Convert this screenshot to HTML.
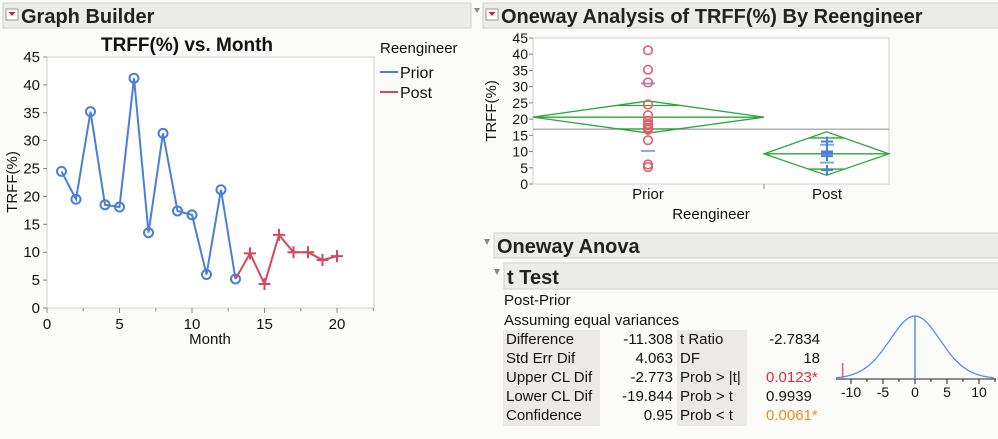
<!DOCTYPE html>
<html><head><meta charset="utf-8">
<style>
body{margin:0;background:#fff;width:998px;height:439px;overflow:hidden;font-family:"Liberation Sans",Arial,sans-serif;}
svg{display:block}
text{font-family:"Liberation Sans",Arial,sans-serif;}
</style></head>
<body>
<svg id="s" width="998" height="439" xmlns="http://www.w3.org/2000/svg">
  <rect x="0" y="0" width="998" height="439" fill="#fbfbfa"/>
  <g>
    <rect x="3" y="3" width="468" height="25" fill="#ececea" stroke="#cfcfcc"/>
    <rect x="6" y="9" width="12" height="11" fill="#fff" stroke="#999"/>
    <path d="M8.5 12 L15.5 12 L12 16 Z" fill="#d0202a"/>
    <text x="21" y="23" font-size="20" font-weight="bold" fill="#222">Graph Builder</text>
  </g>
  <path d="M474 8 L480 8 L477 13 Z" fill="#888"/>
  <g>
    <rect x="483" y="3" width="520" height="25" fill="#ececea" stroke="#cfcfcc"/>
    <rect x="486" y="9" width="12" height="11" fill="#fff" stroke="#999"/>
    <path d="M488.5 12 L495.5 12 L492 16 Z" fill="#d0202a"/>
    <text x="501" y="23" font-size="20" font-weight="bold" fill="#222">Oneway Analysis of TRFF(%) By Reengineer</text>
  </g>
  <g id="gb"></g>
  <g id="ow"></g>
  <path d="M484 239 L490 239 L487 245 Z" fill="#888"/>
  <g>
    <rect x="494" y="233" width="510" height="25" fill="#ececea" stroke="#cfcfcc"/>
    <text x="497" y="253" font-size="20" font-weight="bold" fill="#222">Oneway Anova</text>
  </g>
  <path d="M494 269 L500 269 L497 275 Z" fill="#888"/>
  <g>
    <rect x="504" y="263" width="500" height="26" fill="#ececea" stroke="#cfcfcc"/>
    <text x="507" y="284" font-size="20" font-weight="bold" fill="#222">t Test</text>
  </g>
  <g font-size="15" fill="#111">
    <text x="504" y="305">Post-Prior</text>
    <text x="504" y="325">Assuming equal variances</text>
    <rect x="503" y="330" width="97" height="96" fill="#ebeae6"/>
    <rect x="677" y="330" width="70" height="96" fill="#ebeae6"/>
    <g>
      <text x="506" y="344">Difference</text><text x="673" y="344" text-anchor="end">-11.308</text><text x="680" y="344">t Ratio</text><text x="820" y="344" text-anchor="end">-2.7834</text>
      <text x="506" y="363">Std Err Dif</text><text x="673" y="363" text-anchor="end">4.063</text><text x="680" y="363">DF</text><text x="820" y="363" text-anchor="end">18</text>
      <text x="506" y="382">Upper CL Dif</text><text x="673" y="382" text-anchor="end">-2.773</text><text x="680" y="382">Prob &gt; |t|</text><text x="766" y="382" fill="#e8283c">0.0123*</text>
      <text x="506" y="401">Lower CL Dif</text><text x="673" y="401" text-anchor="end">-19.844</text><text x="680" y="401">Prob &gt; t</text><text x="766" y="401">0.9939</text>
      <text x="506" y="420">Confidence</text><text x="673" y="420" text-anchor="end">0.95</text><text x="680" y="420">Prob &lt; t</text><text x="766" y="420" fill="#f08a24">0.0061*</text>
    </g>
  </g>
  <g id="td"></g>
</svg>
<script>
const months=[1,2,3,4,5,6,7,8,9,10,11,12,13];
const priorVals=[24.5,19.5,35.2,18.5,18.1,41.2,13.5,31.3,17.4,16.7,6.0,21.2,5.2];
const postMonths=[14,15,16,17,18,19,20];
const postVals=[9.8,4.3,13.1,10.0,10.0,8.6,9.3];
const yTicks=[0,5,10,15,20,25,30,35,40,45];
const xTicks=[0,5,10,15,20];
const priorMean=20.6, priorLo=15.7, priorHi=25.6, priorInLo=17.0, priorInHi=24.2, priorSdHi=31.0, priorSdLo=10.2;
const postMean=9.3, postLo=2.7, postHi=16.1, postInLo=4.6, postInHi=14.2, postSdHi=12.1, postSdLo=6.6;
const grandMean=16.9;
const tTicks=[-10,-5,0,5,10];
const tObs=-11.308, tSE=4.063, tDF=18;

const NS='http://www.w3.org/2000/svg';
function mk(parent,tag,attrs,txt){const e=document.createElementNS(NS,tag);for(const k in attrs)e.setAttribute(k,attrs[k]);if(txt!==undefined)e.textContent=txt;parent.appendChild(e);return e;}

(function(){
const g=document.getElementById('gb');
const X=v=>47+v*14.5, Y=v=>308-v*(251/45);
let e=mk(g,'rect',{x:47,y:57,width:327,height:251,fill:'#fff',stroke:'#cfcfcf'});


e=mk(g,'text',{x:187,y:51,'font-size':19,'font-weight':'bold','text-anchor':'middle',fill:'#111'},'TRFF(%) vs. Month');


yTicks.forEach(t=>{mk(g,'line',{x1:43,x2:47,y1:Y(t),y2:Y(t),stroke:'#888'});
 e=mk(g,'text',{x:40,y:Y(t)+5,'font-size':15,'text-anchor':'end',fill:'#111'},t);
 
 });
for(let v=0;v<=22.5;v+=2.5){mk(g,'line',{x1:X(v),x2:X(v),y1:308,y2:v%5==0?313:311,stroke:'#888'});}
xTicks.forEach(t=>{e=mk(g,'text',{x:X(t),y:329,'font-size':15,'text-anchor':'middle',fill:'#111'},t);
 
 });
e=mk(g,'text',{x:210,y:344,'font-size':15,'text-anchor':'middle',fill:'#111'},'Month');


e=mk(g,'text',{x:17,y:182,'font-size':15,'text-anchor':'middle',fill:'#111',transform:'rotate(-90 17 182)'},'TRFF(%)');


const blue='#4a7fd8', red='#d6475c';
let pts=months.map((m,i)=>X(m)+','+Y(priorVals[i])).join(' ');
e=mk(g,'polyline',{points:pts,fill:'none',stroke:blue,'stroke-width':2});


months.forEach((m,i)=>{e=mk(g,'circle',{cx:X(m),cy:Y(priorVals[i]),r:4.5,fill:'none',stroke:blue,'stroke-width':2});
 
 });
let pp=[X(months[months.length-1])+','+Y(priorVals[priorVals.length-1])].concat(postMonths.map((m,i)=>X(m)+','+Y(postVals[i]))).join(' ');
e=mk(g,'polyline',{points:pp,fill:'none',stroke:red,'stroke-width':2});


postMonths.forEach((m,i)=>{const x=X(m),y=Y(postVals[i]);
 e=mk(g,'path',{d:`M${x-6} ${y}H${x+6}M${x} ${y-6}V${y+6}`,stroke:red,'stroke-width':2});
 
 });
e=mk(g,'text',{x:380,y:53,'font-size':15,fill:'#111'},'Reengineer');


[['Prior',blue,72],['Post',red,92]].forEach(([n,c,y])=>{
 const lg=mk(g,'g',{});
 
 
 mk(lg,'line',{x1:380,x2:398,y1:y,y2:y,stroke:c,'stroke-width':2});
 mk(lg,'text',{x:400,y:y+6,'font-size':16,fill:'#111'},n);});
})();

(function(){
const g=document.getElementById('ow');
const Y=v=>184-v*(146/45);
const x0=533,x1=889,xm=764,cP=648,cQ=827;
let e=mk(g,'rect',{x:x0,y:38,width:x1-x0,height:146,fill:'#fff',stroke:'#cfcfcf'});


yTicks.forEach(t=>{mk(g,'line',{x1:x0-4,x2:x0,y1:Y(t),y2:Y(t),stroke:'#888'});
 e=mk(g,'text',{x:x0-5,y:Y(t)+5,'font-size':14,'text-anchor':'end',fill:'#111'},t);
 
 });
mk(g,'line',{x1:xm,x2:xm,y1:184,y2:189,stroke:'#888'});
e=mk(g,'text',{x:cP,y:199,'font-size':15,'text-anchor':'middle',fill:'#111'},'Prior');


e=mk(g,'text',{x:cQ,y:199,'font-size':15,'text-anchor':'middle',fill:'#111'},'Post');


e=mk(g,'text',{x:711,y:219,'font-size':15,'text-anchor':'middle',fill:'#111'},'Reengineer');


e=mk(g,'text',{x:496,y:111,'font-size':15,'text-anchor':'middle',fill:'#111',transform:'rotate(-90 496 111)'},'TRFF(%)');


e=mk(g,'line',{x1:x0,x2:x1,y1:Y(grandMean),y2:Y(grandMean),stroke:'#999','stroke-width':1.2});


const green='#2ca53a';
function diamond(a,b,m,lo,hi,il,ih,name){
 const d=mk(g,'g',{});
 
 
 const c=(a+b)/2, w=(b-a)/2;
 mk(d,'path',{d:`M${a} ${Y(m)}L${c} ${Y(hi)}L${b} ${Y(m)}L${c} ${Y(lo)}Z`,fill:'none',stroke:green,'stroke-width':1.3});
 mk(d,'line',{x1:a,x2:b,y1:Y(m),y2:Y(m),stroke:green,'stroke-width':1.3});
 const f1=(ih-m)/(hi-m);
 mk(d,'line',{x1:c-w*(1-f1),x2:c+w*(1-f1),y1:Y(ih),y2:Y(ih),stroke:green,'stroke-width':1.3});
 const f2=(m-il)/(m-lo);
 mk(d,'line',{x1:c-w*(1-f2),x2:c+w*(1-f2),y1:Y(il),y2:Y(il),stroke:green,'stroke-width':1.3});
}
diamond(x0,xm,priorMean,priorLo,priorHi,priorInLo,priorInHi,'prior-means-diamond');
diamond(xm,x1,postMean,postLo,postHi,postInLo,postInHi,'post-means-diamond');
const lb='#7aa6ee';
[priorSdHi,priorSdLo].forEach(v=>{e=mk(g,'line',{x1:cP-7,x2:cP+7,y1:Y(v),y2:Y(v),stroke:lb,'stroke-width':2});
 
 });
[postSdHi,postSdLo].forEach(v=>{e=mk(g,'line',{x1:cQ-7,x2:cQ+7,y1:Y(v),y2:Y(v),stroke:lb,'stroke-width':2});
 
 });
priorVals.forEach(v=>{e=mk(g,'circle',{cx:cP,cy:Y(v),r:4.3,fill:'none',stroke:'#e0606e','stroke-width':1.6});
 
 });
postVals.forEach(v=>{const y=Y(v);e=mk(g,'path',{d:`M${cQ-6} ${y}H${cQ+6}M${cQ} ${y-5}V${y+5}`,stroke:'#4a7fd8','stroke-width':2});
 
 });
})();

(function(){
const g=document.getElementById('td');
const X0=915, sc=6.4, base=379, top=316;
const X=v=>X0+v*sc;
const dens=t=>Math.pow(1+t*t/tDF,-(tDF+1)/2);
let d='';
for(let v=-12.3;v<=12.4;v+=0.2){const t=v/tSE;d+=(d?'L':'M')+X(v).toFixed(1)+' '+(base-(base-top)*dens(t)).toFixed(1);}
let e=mk(g,'path',{d:d,fill:'none',stroke:'#5b8fe6','stroke-width':1.3});


e=mk(g,'line',{x1:836,x2:996,y1:base,y2:base,stroke:'#222','stroke-width':1});


for(let v=-12.5;v<=12.5;v+=2.5){if(X(v)>=836&&X(v)<=996)mk(g,'line',{x1:X(v),x2:X(v),y1:base,y2:base+(v%5==0?5:3),stroke:'#222'});}
tTicks.forEach(t=>{e=mk(g,'text',{x:X(t),y:397,'font-size':14,'text-anchor':'middle',fill:'#111'},t);
 
 });
e=mk(g,'line',{x1:X(0),x2:X(0),y1:top,y2:base,stroke:'#5b8fe6','stroke-width':1.5});


e=mk(g,'line',{x1:X(tObs),x2:X(tObs),y1:363,y2:base,stroke:'#e0606e','stroke-width':1.5});


})();
</script>
</body></html>
